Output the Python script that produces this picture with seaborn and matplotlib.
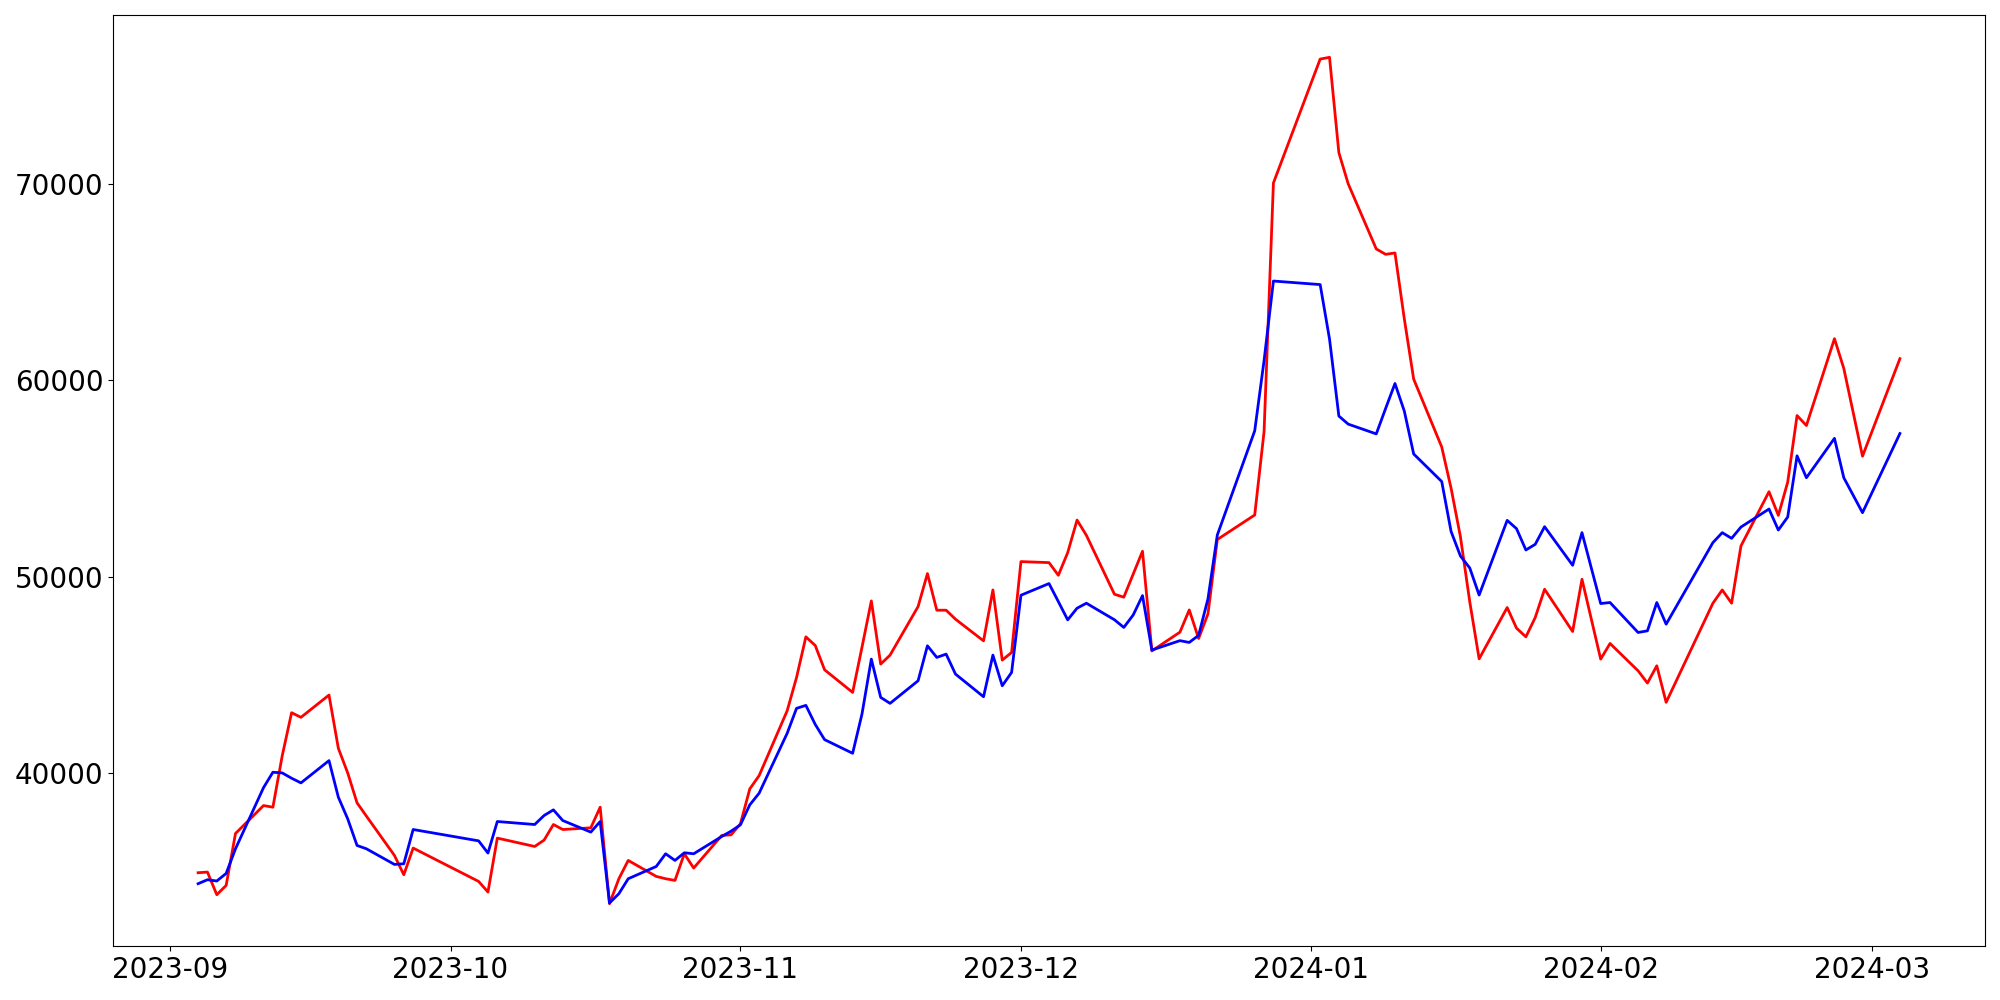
import pandas as pd
import seaborn as sns
import matplotlib.pyplot as plt

# trading days
dates = ['2023-09-04', '2023-09-05', '2023-09-06', '2023-09-07', '2023-09-08',
         '2023-09-11', '2023-09-12', '2023-09-13', '2023-09-14', '2023-09-15',
         '2023-09-18', '2023-09-19', '2023-09-20', '2023-09-21', '2023-09-22',
         '2023-09-25', '2023-09-26', '2023-09-27', '2023-10-04', '2023-10-05',
         '2023-10-06', '2023-10-10', '2023-10-11', '2023-10-12', '2023-10-13',
         '2023-10-16', '2023-10-17', '2023-10-18', '2023-10-19', '2023-10-20',
         '2023-10-23', '2023-10-24', '2023-10-25', '2023-10-26', '2023-10-27',
         '2023-10-30', '2023-10-31', '2023-11-01', '2023-11-02', '2023-11-03',
         '2023-11-06', '2023-11-07', '2023-11-08', '2023-11-09', '2023-11-10',
         '2023-11-13', '2023-11-14', '2023-11-15', '2023-11-16', '2023-11-17',
         '2023-11-20', '2023-11-21', '2023-11-22', '2023-11-23', '2023-11-24',
         '2023-11-27', '2023-11-28', '2023-11-29', '2023-11-30', '2023-12-01',
         '2023-12-04', '2023-12-05', '2023-12-06', '2023-12-07', '2023-12-08',
         '2023-12-11', '2023-12-12', '2023-12-13', '2023-12-14', '2023-12-15',
         '2023-12-18', '2023-12-19', '2023-12-20', '2023-12-21', '2023-12-22',
         '2023-12-26', '2023-12-27', '2023-12-28', '2024-01-02', '2024-01-03',
         '2024-01-04', '2024-01-05', '2024-01-08', '2024-01-09', '2024-01-10',
         '2024-01-11', '2024-01-12', '2024-01-15', '2024-01-16', '2024-01-17',
         '2024-01-18', '2024-01-19', '2024-01-22', '2024-01-23', '2024-01-24',
         '2024-01-25', '2024-01-26', '2024-01-29', '2024-01-30', '2024-02-01',
         '2024-02-02', '2024-02-05', '2024-02-06', '2024-02-07', '2024-02-08',
         '2024-02-13', '2024-02-14', '2024-02-15', '2024-02-16', '2024-02-19',
         '2024-02-20', '2024-02-21', '2024-02-22', '2024-02-23', '2024-02-26',
         '2024-02-27', '2024-02-29', '2024-03-04']

red_values = [34916, 34950, 33797, 34270, 36914,
              38338, 38254, 40880, 43066, 42830,
              43966, 41255, 40000, 38475, 37800,
              35796, 34814, 36172, 34474, 33934,
              36680, 36254, 36578, 37372, 37118,
              37204, 38254, 33340, 34611, 35543,
              34728, 34611, 34525, 35882, 35155,
              36814, 36848, 37407, 39186, 39863,
              43168, 44860, 46930, 46490, 45252,
              44100, 46400, 48760, 45542, 45999,
              48474, 50152, 48287, 48287, 47829,
              46726, 49319, 45745, 46136, 50762,
              50711, 50066, 51220, 52878, 52100,
              49100, 48950, 50120, 51290, 46213,
              47168, 48302, 46847, 48099, 51887,
              53137, 57382, 70045, 76356, 76446,
              71588, 70000, 66686, 66412, 66483,
              63122, 60057, 56600, 54500, 52030,
              48709, 45810, 48423, 47372, 46930,
              47915, 49355, 47202, 49863, 45796,
              46592, 45201, 44576, 45457, 43594,
              48643, 49319, 48643, 51559, 54321,
              53117, 54810, 58201, 57692, 62115,
              60600, 56132, 61098]

blue_values = [34357, 34560, 34494, 34880, 36136,
               39253, 40034, 40000, 39729, 39492,
               40627, 38763, 37661, 36305, 36136,
               35339, 35374, 37118, 36540, 35918,
               37525, 37372, 37830, 38119, 37575,
               36985, 37525, 33375, 33848, 34611,
               35236, 35882, 35543, 35933, 35882,
               36762, 37034, 37356, 38373, 38968,
               42020, 43288, 43440, 42470, 41695,
               41000, 43000, 45796, 43847, 43542,
               44694, 46474, 45882, 46050, 45033,
               43879, 45999, 44439, 45118, 49050,
               49644, 48725, 47795, 48389, 48643,
               47800, 47410, 48040, 49030, 46258,
               46736, 46645, 47006, 48867, 52115,
               57423, 61000, 65052, 64871, 62100,
               58175, 57764, 57266, 58562, 59833,
               58425, 56244, 54840, 52298, 51048,
               50435, 49058, 52863, 52440, 51355,
               51642, 52540, 50575, 52237, 48627,
               48678, 47152, 47237, 48678, 47575,
               51729, 52237, 51947, 52522, 53440,
               52370, 53033, 56150, 55034, 57040,
               55034, 53254, 57286]

df = pd.DataFrame({'date': pd.to_datetime(dates), 'red': red_values, 'blue': blue_values})

fig, ax = plt.subplots(figsize=(20, 10), dpi=100)

# two series, plain colours
sns.lineplot(data=df, x='date', y='red', color='red', lw=2, ax=ax)
sns.lineplot(data=df, x='date', y='blue', color='blue', lw=2, ax=ax)

ax.set_xlabel('')
ax.set_ylabel('')
ax.tick_params(labelsize=20)

fig.subplots_adjust(left=0.0565, right=0.9925, top=0.985, bottom=0.054)
plt.savefig('out.png')
